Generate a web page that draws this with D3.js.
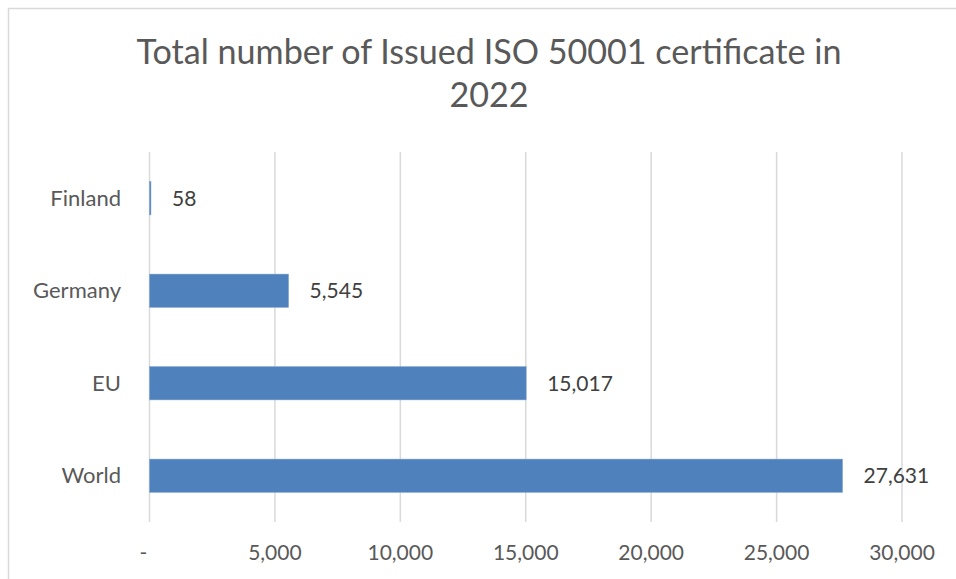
<!DOCTYPE html>
<html><head><meta charset="utf-8">
<script src="https://cdn.jsdelivr.net/npm/d3@7"></script>
<style>html,body{margin:0;padding:0;background:#fff;}svg{display:block;}</style>
</head><body>
<svg id="chart" width="956" height="579"></svg>
<script>
const categories = ["Finland", "Germany", "EU", "World"];
const values = [58, 5545, 15017, 27631];
const tickValues = [0, 5000, 10000, 15000, 20000, 25000, 30000];
const titleLines = ["Total number of Issued ISO 50001 certificate in", "2022"];

const svg = d3.select("#chart");
const font = "Lato, 'Open Sans', sans-serif";

svg.append("rect").attr("x", 8.5).attr("y", 8.5).attr("width", 1000).attr("height", 1000)
  .attr("fill", "#fff").attr("stroke", "#d9d9d9").attr("stroke-width", 1.5);

const x = d3.scaleLinear().domain([0, 30000]).range([149.5, 902]);
const y = d3.scaleBand().domain(categories).range([152, 522]).paddingInner(0.64).paddingOuter(0.32);

// title
const t = svg.append("g");
titleLines.forEach((l, i) => {
  const el = t.append("text").attr("x", 489).attr("y", 64 + i * 43)
    .attr("text-anchor", "middle").attr("fill", "#595959")
    .attr("font-family", font).attr("font-weight", 400).attr("font-size", 33).text(l);
  if (i === 0) {
    const w = el.node().getComputedTextLength();
    const fs = 33 * 705 / w;
    t.selectAll("text").attr("font-size", fs);
  } else {
    el.attr("font-size", t.select("text").attr("font-size"));
  }
});

// gridlines
svg.append("g").selectAll("line").data(tickValues).join("line")
  .attr("x1", d => x(d)).attr("x2", d => x(d)).attr("y1", 152).attr("y2", 522)
  .attr("stroke", "#d9d9d9").attr("stroke-width", 1.5);

// axis labels
const fmt = d3.format(",");
svg.append("g").selectAll("text").data(tickValues).join("text")
  .attr("x", d => x(d) + (d === 0 ? -6 : 0)).attr("y", 560)
  .attr("text-anchor", "middle").attr("fill", "#595959")
  .attr("font-family", font).attr("font-size", 21)
  .text(d => d === 0 ? "-" : fmt(d));

// bars
svg.append("g").selectAll("rect").data(values).join("rect")
  .attr("x", x(0)).attr("y", (d, i) => y(categories[i]))
  .attr("width", d => x(d) - x(0)).attr("height", y.bandwidth())
  .attr("fill", "#4f81bd").attr("stroke", "#7ea3d3").attr("stroke-width", 0.5);

// category labels
svg.append("g").selectAll("text").data(categories).join("text")
  .attr("x", 121).attr("y", d => y(d) + y.bandwidth() / 2)
  .attr("dy", "0.35em").attr("text-anchor", "end").attr("fill", "#595959")
  .attr("font-family", font).attr("font-size", 22).text(d => d);

// value labels
svg.append("g").selectAll("text").data(values).join("text")
  .attr("x", d => x(d) + 21).attr("y", (d, i) => y(categories[i]) + y.bandwidth() / 2)
  .attr("dy", "0.35em").attr("fill", "#404040")
  .attr("font-family", font).attr("font-size", 21).text(d => fmt(d));
</script>
</body></html>
